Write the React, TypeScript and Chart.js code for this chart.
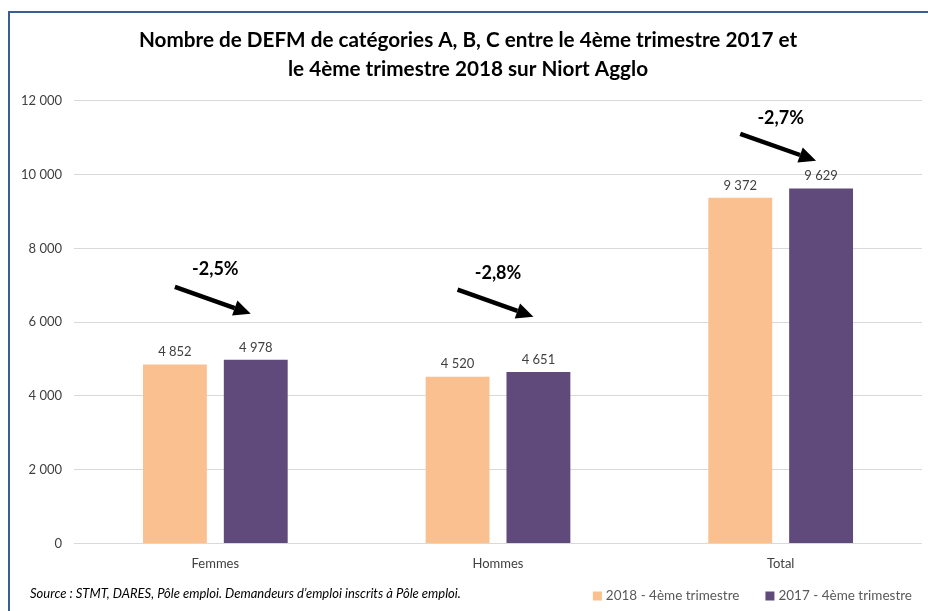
import React, { useEffect, useRef } from "react";
import { Chart, registerables } from "chart.js";

Chart.register(...registerables);

const categories = ["Femmes", "Hommes", "Total"];
const series2018Label = "2018 - 4ème trimestre";
const series2017Label = "2017 - 4ème trimestre";
const values2018 = [4852, 4520, 9372];
const values2017 = [4978, 4651, 9629];
const changeLabels = ["-2,5%", "-2,8%", "-2,7%"];
const yTicks = [0, 2000, 4000, 6000, 8000, 10000, 12000];
const titleLines = [
  "Nombre de DEFM de catégories A, B, C entre le 4ème trimestre 2017 et",
  "le 4ème trimestre 2018 sur Niort Agglo",
];
const sourceText = "Source : STMT, DARES, Pôle emploi. Demandeurs d’emploi inscrits à Pôle emploi.";

// annotation placement in data units (value axis)
const arrowTextValue = [7450, 7340, 11540];
const arrowFromValue = [6960, 6880, 11110];
const arrowToValue = [6230, 6150, 10380];

const FONT = "Lato, 'Open Sans', sans-serif";

function fmt(v: number): string {
  const s = String(Math.round(v));
  return s.replace(/\B(?=(\d{3})+(?!\d))/g, " ");
}

const framePlugin = {
  id: "frame",
  beforeDraw(chart: any) {
    const ctx = chart.ctx;
    ctx.save();
    ctx.fillStyle = "#ffffff";
    ctx.fillRect(0, 0, chart.width, chart.height);
    ctx.strokeStyle = "#3A5E94";
    ctx.lineWidth = 2;
    ctx.beginPath();
    ctx.moveTo(9, chart.height);
    ctx.lineTo(9, 12);
    ctx.lineTo(chart.width, 12);
    ctx.stroke();
    ctx.restore();
  },
};

const labelsPlugin = {
  id: "valueLabels",
  afterDatasetsDraw(chart: any) {
    const ctx = chart.ctx;
    ctx.save();
    ctx.font = `13px ${FONT}`;
    ctx.fillStyle = "#404040";
    ctx.textAlign = "center";
    ctx.textBaseline = "bottom";
    chart.data.datasets.forEach((ds: any, di: number) => {
      const meta = chart.getDatasetMeta(di);
      meta.data.forEach((bar: any, i: number) => {
        ctx.fillText(fmt(ds.data[i]), bar.x, bar.y - 6);
      });
    });
    ctx.restore();
  },
};

const arrowsPlugin = {
  id: "arrows",
  afterDatasetsDraw(chart: any) {
    const ctx = chart.ctx;
    const y = chart.scales.y;
    const x = chart.scales.x;
    const m0 = chart.getDatasetMeta(0);
    const m1 = chart.getDatasetMeta(1);
    ctx.save();
    categories.forEach((_, i) => {
      const cx = x.getPixelForValue(i);
      const x1 = m0.data[i].x;
      const x2 = m1.data[i].x - 5;
      const y1 = y.getPixelForValue(arrowFromValue[i]);
      const y2 = y.getPixelForValue(arrowToValue[i]);
      ctx.fillStyle = "#000";
      ctx.font = `bold 18px ${FONT}`;
      ctx.textAlign = "center";
      ctx.textBaseline = "middle";
      ctx.fillText(changeLabels[i], cx, y.getPixelForValue(arrowTextValue[i]));
      const ang = Math.atan2(y2 - y1, x2 - x1);
      const headLen = 17;
      const headW = 8;
      const bx = x2 - headLen * Math.cos(ang);
      const by = y2 - headLen * Math.sin(ang);
      ctx.strokeStyle = "#000";
      ctx.lineWidth = 4.5;
      ctx.beginPath();
      ctx.moveTo(x1, y1);
      ctx.lineTo(bx, by);
      ctx.stroke();
      ctx.beginPath();
      ctx.moveTo(x2, y2);
      ctx.lineTo(bx + headW * Math.sin(ang), by - headW * Math.cos(ang));
      ctx.lineTo(bx - headW * Math.sin(ang), by + headW * Math.cos(ang));
      ctx.closePath();
      ctx.fill();
    });
    ctx.restore();
  },
};

const footerPlugin = {
  id: "footer",
  afterDraw(chart: any) {
    const ctx = chart.ctx;
    ctx.save();
    ctx.font = `italic 13px ${FONT}`;
    ctx.fillStyle = "#000";
    ctx.textAlign = "left";
    ctx.textBaseline = "middle";
    ctx.fillText(sourceText, 30, 594);

    // legend (right aligned)
    const cy = 596;
    const box = 9;
    const boxGap = 4;
    const itemGap = 26;
    ctx.font = `13.5px ${FONT}`;
    const items = chart.data.datasets.map((ds: any) => ({
      text: ds.label,
      color: ds.backgroundColor,
      w: box + boxGap + ctx.measureText(ds.label).width,
    }));
    const total = items.reduce((s: number, it: any) => s + it.w, 0) + itemGap * (items.length - 1);
    let xx = 912 - total;
    items.forEach((it: any) => {
      ctx.fillStyle = it.color;
      ctx.fillRect(xx, cy - box / 2, box, box);
      ctx.fillStyle = "#595959";
      ctx.fillText(it.text, xx + box + boxGap, cy);
      xx += it.w + itemGap;
    });
    ctx.restore();
  },
};

export default function App() {
  const ref = useRef<HTMLCanvasElement | null>(null);
  useEffect(() => {
    if (!ref.current) return;
    const chart = new Chart(ref.current, {
      type: "bar",
      data: {
        labels: categories,
        datasets: [
          {
            label: series2018Label,
            data: values2018,
            backgroundColor: "#FAC090",
            categoryPercentage: 0.572,
            barPercentage: 0.79,
          },
          {
            label: series2017Label,
            data: values2017,
            backgroundColor: "#604A7B",
            categoryPercentage: 0.572,
            barPercentage: 0.79,
          },
        ],
      },
      options: {
        responsive: false,
        animation: false,
        layout: { padding: { left: 14, right: 6, top: 0, bottom: 34 } },
        scales: {
          x: {
            grid: { display: false },
            border: { display: false },
            ticks: { color: "#404040", font: { family: FONT, size: 13 }, padding: 5 },
          },
          y: {
            min: 0,
            max: 12000,
            afterBuildTicks(scale: any) {
              scale.ticks = yTicks.map((v) => ({ value: v }));
            },
            afterFit(scale: any) {
              scale.width = 60;
            },
            grid: { color: "#D9D9D9", drawTicks: false },
            border: { display: false },
            ticks: {
              color: "#404040",
              font: { family: FONT, size: 13 },
              padding: 12,
              callback: (v: any) => fmt(Number(v)),
            },
          },
        },
        plugins: {
          title: {
            display: true,
            text: titleLines,
            color: "#000",
            font: { family: FONT, size: 20.7, weight: "bold", lineHeight: 1.4 },
            padding: { top: 26, bottom: 17 },
          },
          legend: { display: false },
          tooltip: { enabled: false },
        },
      },
      plugins: [framePlugin, labelsPlugin, arrowsPlugin, footerPlugin],
    } as any);
    return () => chart.destroy();
  }, []);
  return (
    <div style={{ position: "fixed", left: 0, top: 0, width: 928, height: 611 }}>
      <canvas ref={ref} width={928} height={611} style={{ display: "block" }} />
    </div>
  );
}
